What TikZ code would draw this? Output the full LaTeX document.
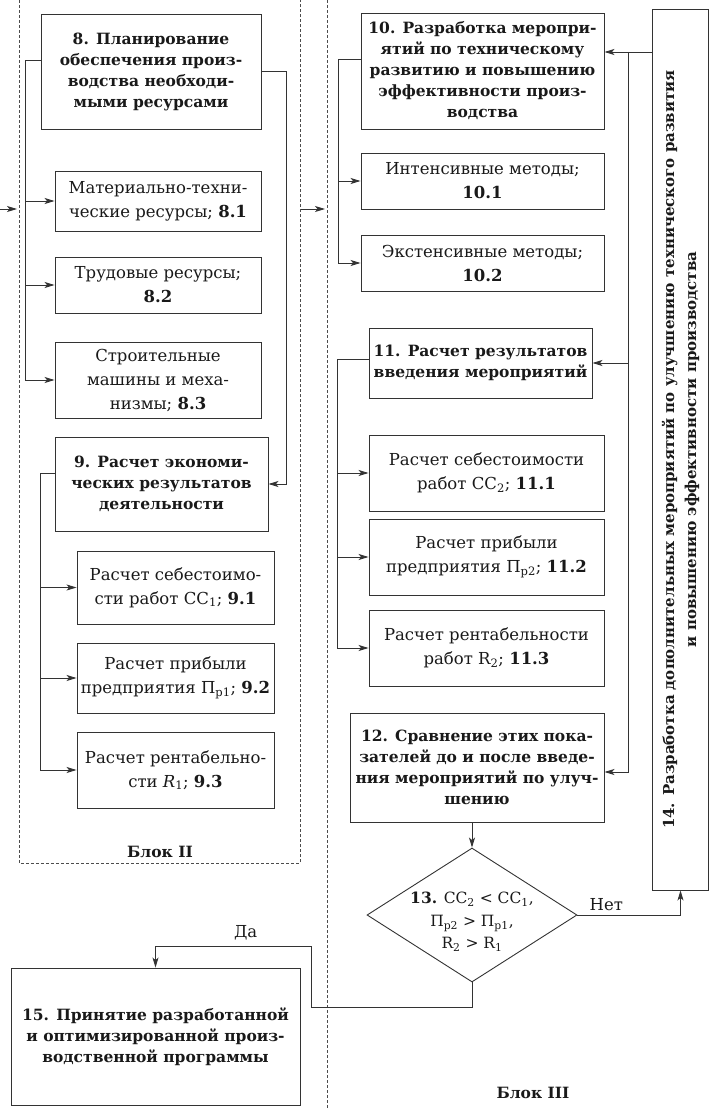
\documentclass[tikz,border=0pt]{standalone}
\usepackage{fontspec}
\setmainfont{DejaVu Serif}
\usetikzlibrary{arrows.meta,shapes.geometric}
\newcommand\myreg{\fontsize{16.5}{24}\selectfont}
\newcommand\mybold{\fontsize{15.5}{21}\selectfont\bfseries}
\newcommand\sbs[1]{\textsubscript{#1}}
\begin{document}
\begin{tikzpicture}[x=1pt,y=-1pt,
  ln/.style={draw=black!80, line width=0.9pt},
  arr/.style={ln, -{Stealth[length=10pt,width=6pt,inset=2.5pt]}},
  box/.style={ln, align=center, inner sep=2pt, font=\myreg, text=black!90},
  bbox/.style={box, font=\mybold},
  blk/.style={draw=black!70, line width=0.8pt, dash pattern=on 3pt off 2pt},
  lbl/.style={font=\myreg, text=black!90, inner sep=1pt},
  blbl/.style={font=\mybold, text=black!90, inner sep=1pt}]
\useasboundingbox (0,0) rectangle (709,1108);
% block frames
\draw[blk] (19,0) -- (19,863) -- (300,863) -- (300,0);
\draw[blk] (327,0) -- (327,1108);
\node[blbl] (blk2) at (160,852) {Блок II};
\node[blbl] (blk3) at (533,1093) {Блок III};
\coordinate (in2a) at (0,209);
\coordinate (in2b) at (17,209);
\coordinate (in3a) at (301,209);
\coordinate (in3b) at (325,209);
\draw[arr] (in2a) -- (in2b);
\draw[arr] (in3a) -- (in3b);
% Block II
\node[bbox, minimum width=220pt, minimum height=115pt] (n8) at (151,71.5) {8. Планирование\\обеспечения произ-\\водства необходи-\\мыми ресурсами};
\node[box, minimum width=206pt, minimum height=60pt] (n81) at (158,201) {Материально-техни-\\ческие ресурсы; \textbf{8.1}};
\node[box, minimum width=206pt, minimum height=56pt] (n82) at (158,285) {Трудовые ресурсы;\\\textbf{8.2}};
\node[box, minimum width=206pt, minimum height=76pt] (n83) at (158,380) {Строительные\\машины и меха-\\низмы; \textbf{8.3}};
\node[bbox, minimum width=213pt, minimum height=94pt] (n9) at (161.5,484) {9. Расчет экономи-\\ческих результатов\\деятельности};
\node[box, minimum width=197pt, minimum height=73pt] (n91) at (175.5,587.5) {Расчет себестоимо-\\сти работ СС\sbs{1}; \textbf{9.1}};
\node[box, minimum width=197pt, minimum height=70pt] (n92) at (175.5,678) {Расчет прибыли\\предприятия П\sbs{р1}; \textbf{9.2}};
\node[box, minimum width=197pt, minimum height=76pt] (n93) at (175.5,770) {Расчет рентабельно-\\сти \textit{R}\sbs{1}; \textbf{9.3}};
\coordinate (t8) at (25,60);
\draw[arr] ([yshift=11.5pt]n8.west) -- (t8) |- (n83.west);
\draw[arr] (t8 |- n81.west) -- (n81.west);
\draw[arr] (t8 |- n82.west) -- (n82.west);
\coordinate (r8) at (286,71.5);
\draw[arr] (n8.east) -- (r8) |- (n9.east);
\coordinate (t9) at (40,473);
\draw[arr] ([yshift=11pt]n9.west) -- (t9) |- (n93.west);
\draw[arr] (t9 |- n91.west) -- (n91.west);
\draw[arr] (t9 |- n92.west) -- (n92.west);
% Block III
\node[bbox, minimum width=243pt, minimum height=116pt] (n10) at (482.5,71) {10. Разработка меропри-\\ятий по техническому\\развитию и повышению\\эффективности произ-\\водства};
\node[box, minimum width=243pt, minimum height=56pt] (n101) at (482.5,181) {Интенсивные методы;\\\textbf{10.1}};
\node[box, minimum width=243pt, minimum height=56pt] (n102) at (482.5,263) {Экстенсивные методы;\\\textbf{10.2}};
\node[bbox, minimum width=223pt, minimum height=70pt] (n11) at (480.5,363) {11. Расчет результатов\\введения мероприятий};
\node[box, minimum width=235pt, minimum height=76pt] (n111) at (486.5,473) {Расчет себестоимости\\работ СС\sbs{2}; \textbf{11.1}};
\node[box, minimum width=235pt, minimum height=76pt] (n112) at (486.5,557) {Расчет прибыли\\предприятия П\sbs{р2}; \textbf{11.2}};
\node[box, minimum width=235pt, minimum height=76pt] (n113) at (486.5,648) {Расчет рентабельности\\работ R\sbs{2}; \textbf{11.3}};
\node[bbox, minimum width=254pt, minimum height=109pt] (n12) at (477,767.5) {12. Сравнение этих пока-\\зателей до и после введе-\\ния мероприятий по улуч-\\шению};
\node[ln, diamond, minimum width=210pt, minimum height=134pt, inner sep=0pt] (n13) at (472,915) {};
\node[lbl, align=center, font=\fontsize{15.5}{22.5}\selectfont] (n13t) at (472,922) {\textbf{13.} СС\sbs{2} < СС\sbs{1},\\П\sbs{р2} > П\sbs{р1},\\R\sbs{2} > R\sbs{1}};
\node[bbox, font=\fontsize{15}{22}\selectfont\bfseries, rotate=90, minimum width=881pt, minimum height=56pt] (n14) at (680.5,449.5) {14. Разработка дополнительных мероприятий по улучшению технического развития\\и повышению эффективности производства};
\node[bbox, minimum width=289pt, minimum height=137pt] (n15) at (155.5,1036.5) {15. Принятие разработанной\\и оптимизированной произ-\\водственной программы};
\coordinate (t10) at (338,59);
\draw[arr] ([yshift=12pt]n10.west) -- (t10) |- (n102.west);
\draw[arr] (t10 |- n101.west) -- (n101.west);
\coordinate (t11) at (337,359);
\draw[arr] ([yshift=4pt]n11.west) -- (t11) |- (n113.west);
\draw[arr] (t11 |- n111.west) -- (n111.west);
\draw[arr] (t11 |- n112.west) -- (n112.west);
\coordinate (v14) at (628,52);
\draw[arr] (n14.north |- v14) -- ([yshift=19pt]n10.east);
\draw[arr] (v14) |- ([yshift=-4.5pt]n12.east);
\draw[arr] (v14 |- n11.east) -- (n11.east);
\draw[arr] (n13.north |- n12.south) -- (n13.north);
\draw[arr] (n13.east) -| (n14.west) node[lbl, pos=0.14, above=3pt] {Нет};
\coordinate (c1) at (311,1007);
\coordinate (c2) at (311,946);
\draw[arr] (n13.south) |- (c1) -- (c2) -| (n15.north) node[lbl, pos=0.21, above=4pt] {Да};
\end{tikzpicture}
\end{document}
